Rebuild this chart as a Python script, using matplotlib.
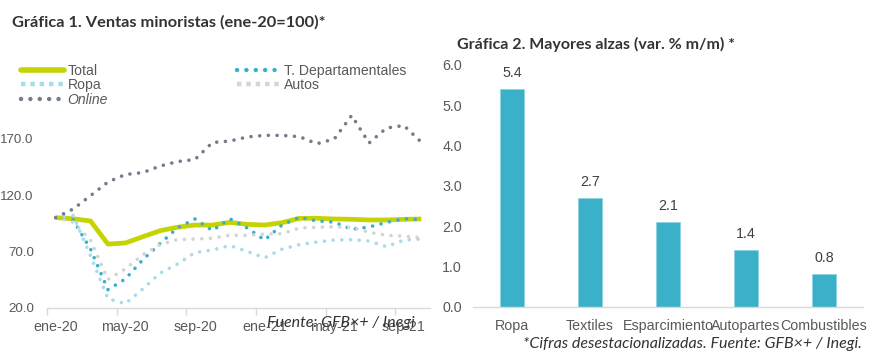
import matplotlib
matplotlib.use("Agg")
import matplotlib.pyplot as plt
from matplotlib.lines import Line2D
import numpy as np

# ---------------- data ----------------
months = ["ene-20", "feb-20", "mar-20", "abr-20", "may-20", "jun-20", "jul-20", "ago-20",
          "sep-20", "oct-20", "nov-20", "dic-20", "ene-21", "feb-21", "mar-21", "abr-21",
          "may-21", "jun-21", "jul-21", "ago-21", "sep-21", "oct-21"]
tick_months = ["ene-20", "may-20", "sep-20", "ene-21", "may-21", "sep-21"]

total = [100, 99, 97, 76.5, 77.5, 83, 88.4, 91.5, 93.4, 93.4, 95.8, 94, 93.4, 95.5, 99.4,
         99.4, 98.8, 98.5, 97.9, 97.9, 98.5, 98.8]
t_dep = [100, 98, 72, 36, 45.5, 62.6, 77, 91, 98.8, 88.5, 99, 90.8, 80.1, 93.4, 100.3,
         97, 96, 89.6, 91.7, 95.7, 99, 98.3]
ropa = [100, 102, 66, 28, 23.5, 36.6, 50.8, 58.8, 69, 71.2, 75.2, 70, 64.3, 72, 76,
        78.3, 80.1, 80.4, 79.2, 74.2, 80.1, 81]
autos = [100, 96, 80, 45, 54.5, 67, 76, 80.6, 81, 81.7, 84.4, 84.1, 85.5, 85.7, 90.8,
         91.4, 91.9, 91.2, 87, 84.3, 83.5, 82.3]
online = [100, 107.6, 119.5, 131.6, 138.3, 140, 145.8, 149.8, 151.6, 166.7, 168, 171.6,
          173.1, 173, 171.9, 165.6, 169.8, 190.7, 166.3, 179.6, 181.8, 167]

bar_cats = ["Ropa", "Textiles", "Esparcimiento", "Autopartes", "Combustibles"]
bar_vals = [5.4, 2.7, 2.1, 1.4, 0.8]

# ---------------- style ----------------
TXT = "#595959"
AX = "#D9D9D9"
C_TOTAL = "#C5D400"
C_TDEP = "#3AAFCB"
C_ROPA = "#A7DCEA"
C_AUTOS = "#D4D4D4"
C_ONLINE = "#727C8A"
BAR = "#3BB0C9"
TICKFONT = "Liberation Sans"
TITLEFONT = "Lato"

fig = plt.figure(figsize=(8.94, 3.56), dpi=100)

# ---------------- left chart ----------------
ax1 = fig.add_axes([47 / 894, 48.3 / 356, 383 / 894, 225.2 / 356])
x = np.arange(len(months))
dot = dict(linestyle=(0, (0.01, 2.4)), dash_capstyle="round", solid_capstyle="round")
lt, = ax1.plot(x, total, color=C_TOTAL, lw=3.4, solid_capstyle="butt", zorder=2)
ld, = ax1.plot(x, t_dep, color=C_TDEP, lw=2.6, zorder=3, **dot)
lr, = ax1.plot(x, ropa, color=C_ROPA, lw=2.6, zorder=3, **dot)
la, = ax1.plot(x, autos, color=C_AUTOS, lw=2.6, zorder=3, **dot)
lo, = ax1.plot(x, online, color=C_ONLINE, lw=2.6, zorder=3, **dot)

ax1.set_xlim(-0.5, len(months) - 0.5)
ax1.set_ylim(20, 220)
ax1.set_yticks([20, 70, 120, 170])
ax1.set_yticklabels(["20.0", "70.0", "120.0", "170.0"])
tick_pos = [months.index(m) for m in tick_months]
ax1.set_xticks(tick_pos)
ax1.set_xticklabels(tick_months)
ax1.set_xticks([p - 0.5 for p in tick_pos], minor=True)
ax1.tick_params(axis="x", which="major", length=0, pad=9, labelsize=10.3, labelcolor=TXT)
ax1.tick_params(axis="x", which="minor", length=5, color=AX, width=1)
ax1.tick_params(axis="y", length=0, pad=9.5, labelsize=9.6, labelcolor=TXT)
for lab in ax1.get_xticklabels() + ax1.get_yticklabels():
    lab.set_fontfamily(TICKFONT)
for s in ["top", "right", "left"]:
    ax1.spines[s].set_visible(False)
ax1.spines["bottom"].set_color(AX)
ax1.spines["bottom"].set_linewidth(1)

# legend
h_total = Line2D([], [], color=C_TOTAL, lw=4, solid_capstyle="round")
h_tdep = Line2D([], [], color=C_TDEP, lw=3.2, linestyle=(0, (0.01, 2.1)), dash_capstyle="round")
h_ropa = Line2D([], [], color=C_ROPA, lw=3.2, linestyle=(0, (1, 1.1)), dash_capstyle="butt")
h_autos = Line2D([], [], color=C_AUTOS, lw=3.2, linestyle=(0, (1, 1.1)), dash_capstyle="butt")
h_online = Line2D([], [], color=C_ONLINE, lw=3.2, linestyle=(0, (0.01, 2.1)), dash_capstyle="round")
leg = fig.legend([h_total, h_ropa, h_online, h_tdep, h_autos],
                 ["Total", "Ropa", "Online", "T. Departamentales", "Autos"],
                 ncol=2, loc="upper left", bbox_to_anchor=(15 / 894, 1 - 58 / 356),
                 frameon=False, handlelength=3.1, handletextpad=0.25,
                 columnspacing=9.2, labelspacing=0.05, borderaxespad=0,
                 prop={"family": TICKFONT, "size": 10.1})
for t in leg.get_texts():
    t.set_color(TXT)
leg.get_texts()[2].set_style("italic")

fig.text(12 / 894, 1 - 22 / 356, "Gráfica 1. Ventas minoristas (ene-20=100)*",
         fontfamily=TITLEFONT, fontweight="bold", fontsize=11.8, color="#333333",
         va="center", ha="left")
fig.text(267 / 894, 1 - 323 / 356, "Fuente: GFB×+ / Inegi",
         fontfamily=TITLEFONT, fontstyle="italic", fontsize=11.5, color="#333333",
         va="center", ha="left")

# ---------------- right chart ----------------
ax2 = fig.add_axes([473 / 894, 49.3 / 356, 390 / 894, 241.7 / 356])
xb = np.arange(len(bar_cats))
bars = ax2.bar(xb, bar_vals, width=0.32, color=BAR, edgecolor="#8FD3E2", linewidth=0.6, zorder=2)
ax2.set_xlim(-0.5, len(bar_cats) - 0.5)
ax2.set_ylim(0, 6)
ax2.set_yticks(np.arange(0, 7, 1))
ax2.set_yticklabels([f"{v:.1f}" for v in np.arange(0, 7, 1)])
ax2.set_xticks(xb)
ax2.set_xticklabels(bar_cats)
ax2.tick_params(axis="x", length=0, pad=9, labelsize=10.3, labelcolor=TXT)
ax2.tick_params(axis="y", length=0, pad=8, labelsize=10.3, labelcolor=TXT)
for lab in ax2.get_xticklabels() + ax2.get_yticklabels():
    lab.set_fontfamily(TICKFONT)
for s in ["top", "right", "left"]:
    ax2.spines[s].set_visible(False)
ax2.spines["bottom"].set_color(AX)
ax2.spines["bottom"].set_linewidth(1)
for xi, v in zip(xb, bar_vals):
    ax2.annotate(f"{v:.1f}", (xi, v), xytext=(0, 6.5), textcoords="offset points",
                 ha="center", va="bottom", fontsize=10.3, color="#404040",
                 fontfamily=TICKFONT)

fig.text(457 / 894, 1 - 44 / 356, "Gráfica 2. Mayores alzas (var. % m/m) *",
         fontfamily=TITLEFONT, fontweight="bold", fontsize=11.5, color="#333333",
         va="center", ha="left")
fig.text(862 / 894, 1 - 344 / 356, "*Cifras desestacionalizadas. Fuente: GFB×+ / Inegi.",
         fontfamily=TITLEFONT, fontstyle="italic", fontsize=11.5, color="#333333",
         va="center", ha="right")

fig.savefig("out.png", dpi=100)
